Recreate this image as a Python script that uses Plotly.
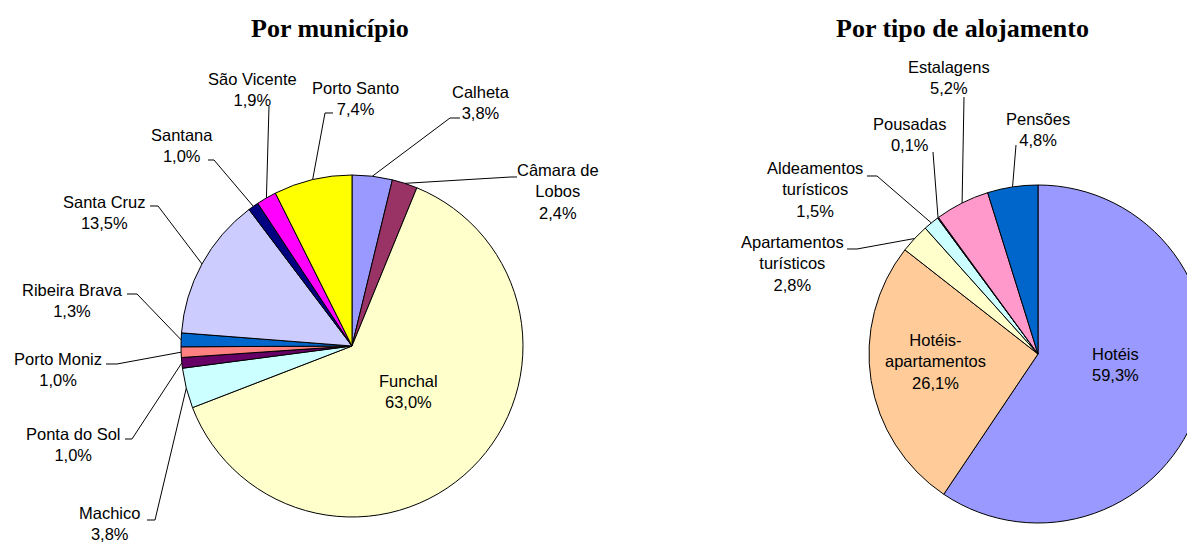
import math
import plotly.graph_objects as go

W, H = 1200, 544
OFF = 8  # page body margin: figure pixel (0,0) lands at screen (8,8)

# ---------------- data ----------------
mun_names = ["Calheta", "Câmara de<br>Lobos", "Funchal", "Machico", "Ponta do Sol",
             "Porto Moniz", "Ribeira Brava", "Santa Cruz", "Santana", "São Vicente", "Porto Santo"]
mun_values = [3.8, 2.4, 63.0, 3.8, 1.0, 1.0, 1.3, 13.5, 1.0, 1.9, 7.4]
mun_colors = ["#9999FF", "#993366", "#FFFFCC", "#CCFFFF", "#660066", "#FF8080",
              "#0066CC", "#CCCCFF", "#000080", "#FF00FF", "#FFFF00"]

tipo_names = ["Hotéis", "Hotéis-<br>apartamentos", "Apartamentos<br>turísticos",
              "Aldeamentos<br>turísticos", "Pousadas", "Estalagens", "Pensões"]
tipo_values = [59.3, 26.1, 2.8, 1.5, 0.1, 5.2, 4.8]
tipo_colors = ["#9999FF", "#FFCC99", "#FFFFCC", "#CCFFFF", "#660066", "#FF99CC", "#0066CC"]

titles = ["Por município", "Por tipo de alojamento"]

# ---------------- layout (screen pixels) ----------------
left_c, left_r = (352.0, 346.0), 171.0
right_c, right_r = (1038.0, 354.0), 169.0

mun_lab = [
    dict(pos=(481, 103), stub=[(450, 118), (460, 118)]),
    dict(pos=(558, 191), stub=[(511, 177), (517, 177)]),
    dict(pos=(408, 391), stub=None),
    dict(pos=(109, 523), stub=[(155, 520), (147, 520)]),
    dict(pos=(73, 444), stub=[(132, 439), (125, 439)]),
    dict(pos=(58, 369), stub=[(117, 364), (106, 364)]),
    dict(pos=(72, 300), stub=[(137, 294), (127, 294)]),
    dict(pos=(104, 212), stub=[(158, 206), (150, 206)]),
    dict(pos=(182, 145), stub=[(214, 160), (208, 160)]),
    dict(pos=(252, 89), stub=[(269, 106)]),
    dict(pos=(355, 99), stub=[(325, 113), (333, 113)]),
]
tipo_lab = [
    dict(pos=(1115, 364), stub=None),
    dict(pos=(935, 361), stub=None),
    dict(pos=(792, 263), stub=[(857, 249), (847, 249)]),
    dict(pos=(815, 189), stub=[(877, 176), (867, 176)]),
    dict(pos=(909, 135), stub=[(933, 152)]),
    dict(pos=(949, 77), stub=[(964, 97)]),
    dict(pos=(1038, 130), stub=[(1016, 145)]),
]
title_pos = [(330, 29), (962, 29)]

FONT = "Liberation Sans, Arial, sans-serif"
FS = 16.5


def px2paper(x, y):
    return (x - OFF) / W, 1 - (y - OFF) / H


def fmt(v):
    return f"{v:.1f}".replace(".", ",") + "%"


def domain(c, r):
    x0, y0 = px2paper(c[0] - r, c[1] + r)
    x1, y1 = px2paper(c[0] + r, c[1] - r)
    return dict(x=[max(0, x0), min(1, x1)], y=[max(0, y0), min(1, y1)])


fig = go.Figure()

for names, values, colors, c, r in [(mun_names, mun_values, mun_colors, left_c, left_r),
                                    (tipo_names, tipo_values, tipo_colors, right_c, right_r)]:
    fig.add_trace(go.Pie(
        labels=[n.replace("<br>", " ") for n in names], values=values,
        marker=dict(colors=colors, line=dict(color="black", width=1)),
        sort=False, direction="clockwise", rotation=0,
        textinfo="none", hoverinfo="label+percent", showlegend=False,
        domain=domain(c, r),
    ))

annotations = []
shapes = []
for names, values, labs, (cx, cy), r in [(mun_names, mun_values, mun_lab, left_c, left_r),
                                         (tipo_names, tipo_values, tipo_lab, right_c, right_r)]:
    total = sum(values)
    cum = 0.0
    for name, v, lab in zip(names, values, labs):
        mid = (cum + v / 2) / total
        cum += v
        th = 2 * math.pi * mid
        ex, ey = cx + r * math.sin(th), cy - r * math.cos(th)
        lx, ly = lab["pos"]
        px, py = px2paper(lx, ly)
        annotations.append(dict(
            x=px, y=py, xref="paper", yref="paper", xanchor="center", yanchor="middle",
            text=f"{name}<br>{fmt(v)}", showarrow=False, align="center",
            font=dict(family=FONT, size=FS, color="black"),
        ))
        if lab["stub"]:
            pts = [(ex, ey)] + lab["stub"]
            path = ""
            for i, (x, y) in enumerate(pts):
                a, b = px2paper(x, y)
                path += ("M" if i == 0 else " L") + f"{a:.5f},{b:.5f}"
            shapes.append(dict(type="path", xref="paper", yref="paper", path=path,
                               line=dict(color="black", width=1)))

for t, (tx, ty) in zip(titles, title_pos):
    a, b = px2paper(tx, ty)
    annotations.append(dict(
        x=a, y=b, xref="paper", yref="paper", xanchor="center", yanchor="middle",
        text=f"<b>{t}</b>", showarrow=False,
        font=dict(family="Liberation Serif, Times New Roman, serif", size=26, color="black"),
    ))

fig.update_layout(
    width=W, height=H,
    margin=dict(l=0, r=0, t=0, b=0),
    paper_bgcolor="white", plot_bgcolor="white",
    annotations=annotations, shapes=shapes,
)

fig.write_html("out.html")
